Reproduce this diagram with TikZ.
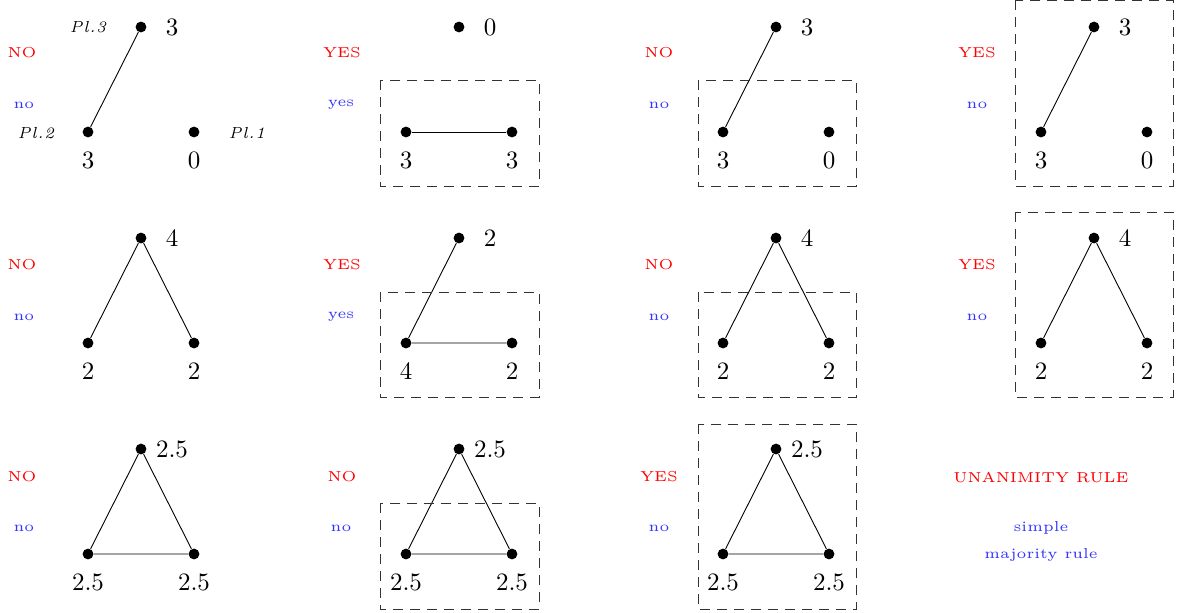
\documentclass[tikz,border=0pt]{standalone}
\usepackage{fontspec}
\newfontfamily\smallrm{lmroman5-regular.otf}
\newfontfamily\plrm{lmroman7-italic.otf}[LetterSpace=6]
\newfontfamily\numrm{lmroman10-regular.otf}
\newcommand\mktri[6]{%
  \node[vtx] (#1t) at (141+#2,27+#3) {};
  \node[vtx] (#1l) at (88+#2,132+#3) {};
  \node[vtx] (#1r) at (194+#2,132+#3) {};
  \node[num] (#1tn) at (172+#2,27+#3) {#4};
  \node[num] (#1ln) at (88+#2,160+#3) {#5};
  \node[num] (#1rn) at (194+#2,160+#3) {#6};
}
\tikzset{
  vtx/.style={circle,fill=black,inner sep=0pt,minimum size=5.4pt},
  edge/.style={line width=0.45pt},
  num/.style={font=\numrm\fontsize{12.5}{14}\selectfont,inner sep=0pt},
  pl/.style={font=\plrm\fontsize{8}{10}\selectfont,inner sep=0pt},
  verdict/.style={font=\smallrm\fontsize{7.2}{9}\selectfont,text=red,inner sep=0pt},
  vote/.style={font=\smallrm\fontsize{7.2}{9}\selectfont,text=blue!80,inner sep=0pt},
  cbox/.style={draw=black!80,dash pattern=on 5pt off 3.5pt,line width=0.45pt}
}
\begin{document}
\begin{tikzpicture}[x=0.5pt,y=-0.5pt]
\useasboundingbox (0,0) rectangle (1177,612);
% row 1
\mktri{a}{0}{0}{3}{3}{0}
\draw[edge] (at) -- (al);
\node[pl] (p3) at (88,27) {Pl.3};
\node[pl] (p2) at (36,133) {Pl.2};
\node[pl] (p1) at (247,133) {Pl.1};
\node[verdict] (va) at (22,53) {NO};
\node[vote] (wa) at (24,105) {no};

\mktri{b}{318}{0}{0}{3}{3}
\draw[edge] (bl) -- (br);
\draw[cbox] (380,80) rectangle (539,186);
\node[verdict] (vb) at (342,53) {YES};
\node[vote] (wb) at (341,105) {yes};

\mktri{c}{635}{0}{3}{3}{0}
\draw[edge] (ct) -- (cl);
\draw[cbox] (698,80) rectangle (856,186);
\node[verdict] (vc) at (659,53) {NO};
\node[vote] (wc) at (659,105) {no};

\mktri{d}{953}{0}{3}{3}{0}
\draw[edge] (dt) -- (dl);
\draw[cbox] (1015,0) rectangle (1173,186);
\node[verdict] (vd) at (977,53) {YES};
\node[vote] (wd) at (977,105) {no};

% row 2
\mktri{e}{0}{211}{4}{2}{2}
\draw[edge] (el) -- (et) -- (er);
\node[verdict] (ve) at (22,265) {NO};
\node[vote] (we) at (24,317) {no};

\mktri{f}{318}{211}{2}{4}{2}
\draw[edge] (ft) -- (fl) -- (fr);
\draw[cbox] (380,292) rectangle (539,397);
\node[verdict] (vf) at (342,265) {YES};
\node[vote] (wf) at (341,317) {yes};

\mktri{g}{635}{211}{4}{2}{2}
\draw[edge] (gl) -- (gt) -- (gr);
\draw[cbox] (698,292) rectangle (856,397);
\node[verdict] (vg) at (659,265) {NO};
\node[vote] (wg) at (659,317) {no};

\mktri{h}{953}{211}{4}{2}{2}
\draw[edge] (hl) -- (ht) -- (hr);
\draw[cbox] (1015,212) rectangle (1173,397);
\node[verdict] (vh) at (977,265) {YES};
\node[vote] (wh) at (977,317) {no};

% row 3
\mktri{i}{0}{422}{2.5}{2.5}{2.5}
\draw[edge] (it) -- (il) -- (ir) -- (it);
\node[verdict] (vi) at (22,477) {NO};
\node[vote] (wi) at (24,528) {no};

\mktri{j}{318}{422}{2.5}{2.5}{2.5}
\draw[edge] (jt) -- (jl) -- (jr) -- (jt);
\draw[cbox] (380,503) rectangle (539,609);
\node[verdict] (vj) at (342,477) {NO};
\node[vote] (wj) at (341,528) {no};

\mktri{k}{635}{422}{2.5}{2.5}{2.5}
\draw[edge] (kt) -- (kl) -- (kr) -- (kt);
\draw[cbox] (698,424) rectangle (856,609);
\node[verdict] (vk) at (659,477) {YES};
\node[vote] (wk) at (659,528) {no};

\node[verdict] (un) at (1041,477) {UNANIMITY RULE};
\node[vote] (sm1) at (1041,528) {simple};
\node[vote] (sm2) at (1041,555) {majority rule};
\end{tikzpicture}
\end{document}
